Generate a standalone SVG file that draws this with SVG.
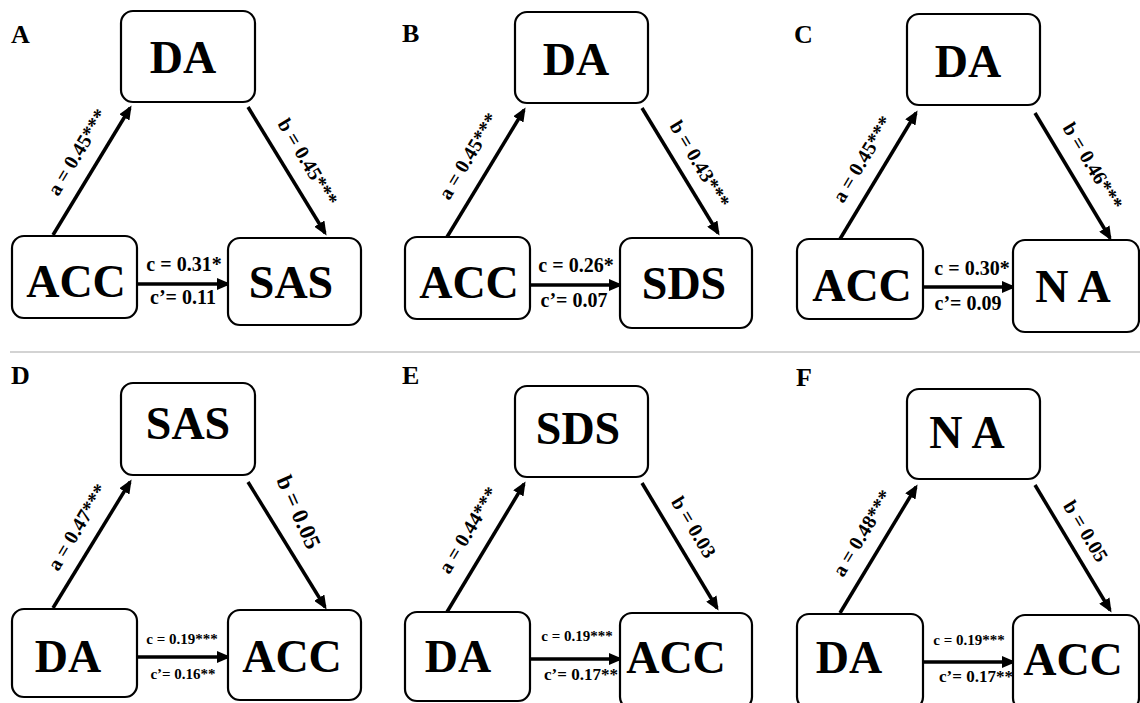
<svg xmlns="http://www.w3.org/2000/svg" width="1140" height="703" viewBox="0 0 1140 703">
<style>
.bg{fill:#fff}
.box{fill:#fff;stroke:#000;stroke-width:2.2}
.nt{font-family:"Liberation Serif","Times New Roman",serif;font-weight:bold;font-size:46px;fill:#000;text-anchor:middle}
.pl{font-family:"Liberation Serif","Times New Roman",serif;font-weight:bold;font-size:26px;fill:#000}
.el{font-family:"Liberation Serif","Times New Roman",serif;font-weight:bold;font-size:20px;fill:#000;text-anchor:middle}
.cl{font-family:"Liberation Serif","Times New Roman",serif;font-weight:bold;font-size:20px;fill:#000;text-anchor:middle}
.cs{font-size:15px}
.cm{font-size:17px}
.ar{stroke:#000;stroke-width:3.5;fill:none;marker-end:url(#ah)}
.sep{stroke:#c4c4c4;stroke-width:1.5}
</style>
<defs>
<marker id="ah" markerUnits="userSpaceOnUse" markerWidth="14" markerHeight="12" refX="11" refY="6" orient="auto">
<path d="M0,0 L14,6 L0,12 z" fill="#000"/>
</marker>
</defs>
<rect class="bg" x="0" y="0" width="1140" height="703"/>
<line class="sep" x1="10" y1="352" x2="1140" y2="352"/>

<g id="panel-labels">
<text class="pl" x="11" y="43">A</text>
<text class="pl" x="402" y="42">B</text>
<text class="pl" x="794" y="43">C</text>
<text class="pl" x="11" y="384">D</text>
<text class="pl" x="402" y="384">E</text>
<text class="pl" x="796" y="386">F</text>
</g>

<g id="connectors">
<!-- A -->
<line class="ar" x1="53" y1="235" x2="130" y2="108"/>
<line class="ar" x1="248" y1="107" x2="325" y2="233"/>
<line class="ar" x1="137" y1="284" x2="228" y2="284"/>
<!-- B -->
<line class="ar" x1="447" y1="237" x2="524" y2="110"/>
<line class="ar" x1="642" y1="108" x2="718" y2="233"/>
<line class="ar" x1="530" y1="285" x2="620" y2="285"/>
<!-- C -->
<line class="ar" x1="840" y1="239" x2="916" y2="113"/>
<line class="ar" x1="1035" y1="113" x2="1110" y2="238"/>
<line class="ar" x1="923" y1="287" x2="1013" y2="287"/>
<!-- D -->
<line class="ar" x1="53" y1="608" x2="130" y2="482"/>
<line class="ar" x1="248" y1="482" x2="325" y2="607"/>
<line class="ar" x1="137" y1="657" x2="228" y2="657"/>
<!-- E -->
<line class="ar" x1="447" y1="612" x2="524" y2="484"/>
<line class="ar" x1="642" y1="483" x2="717" y2="608"/>
<line class="ar" x1="530" y1="659" x2="620" y2="659"/>
<!-- F -->
<line class="ar" x1="840" y1="613" x2="916" y2="487"/>
<line class="ar" x1="1035" y1="485" x2="1110" y2="610"/>
<line class="ar" x1="923" y1="662" x2="1013" y2="662"/>

<!-- edge labels -->
<text class="el" transform="translate(77,152) rotate(-59)" x="0" y="7">a = 0.45***</text>
<text class="el" transform="translate(308,162) rotate(59)" x="0" y="7">b = 0.45***</text>
<text class="cl" x="184" y="271">c = 0.31*</text>
<text class="cl" x="183" y="304">c’= 0.11</text>

<text class="el" transform="translate(468,156) rotate(-59)" x="0" y="7">a = 0.45***</text>
<text class="el" transform="translate(700,164) rotate(59)" x="0" y="7">b = 0.43***</text>
<text class="cl" x="576" y="272">c = 0.26*</text>
<text class="cl" x="574" y="307">c’= 0.07</text>

<text class="el" transform="translate(862,159) rotate(-59)" x="0" y="7">a = 0.45***</text>
<text class="el" transform="translate(1093,166) rotate(59)" x="0" y="7">b = 0.46***</text>
<text class="cl" x="972" y="275">c = 0.30*</text>
<text class="cl" x="968" y="310">c’= 0.09</text>

<text class="el" transform="translate(77,527) rotate(-59)" x="0" y="7">a = 0.47***</text>
<text class="el" transform="translate(299,512) rotate(66)" x="0" y="8" style="font-size:23px">b = 0.05</text>
<text class="cl cs" x="182" y="644">c = 0.19***</text>
<text class="cl cs" x="183" y="679">c’= 0.16**</text>

<text class="el" transform="translate(468,530) rotate(-59)" x="0" y="7">a = 0.44***</text>
<text class="el" transform="translate(694,527) rotate(59)" x="0" y="7">b = 0.03</text>
<text class="cl cs" x="577" y="641">c = 0.19***</text>
<text class="cl cm" x="581" y="680">c’= 0.17**</text>

<text class="el" transform="translate(862,533) rotate(-59)" x="0" y="7">a = 0.48***</text>
<text class="el" transform="translate(1086,531) rotate(59)" x="0" y="7">b = 0.05</text>
<text class="cl cs" x="969" y="645">c = 0.19***</text>
<text class="cl cm" x="976" y="682">c’= 0.17**</text>
</g>

<!-- Panel A nodes -->
<g id="A-DA"><rect class="box" x="121" y="11" width="134" height="91" rx="12"/><text class="nt" x="183" y="73">DA</text></g>
<g id="A-ACC"><rect class="box" x="12" y="236" width="125" height="82" rx="12"/><text class="nt" x="76" y="297">ACC</text></g>
<g id="A-SAS"><rect class="box" x="228" y="238" width="133" height="87" rx="12"/><text class="nt" x="291" y="298">SAS</text></g>

<!-- Panel B nodes -->
<g id="B-DA"><rect class="box" x="515" y="12" width="133" height="91" rx="12"/><text class="nt" x="576" y="75">DA</text></g>
<g id="B-ACC"><rect class="box" x="405" y="237" width="125" height="82" rx="12"/><text class="nt" x="469" y="298">ACC</text></g>
<g id="B-SDS"><rect class="box" x="620" y="238" width="132" height="90" rx="12"/><text class="nt" x="684" y="299">SDS</text></g>

<!-- Panel C nodes -->
<g id="C-DA"><rect class="box" x="907" y="14" width="133" height="91" rx="12"/><text class="nt" x="968" y="77">DA</text></g>
<g id="C-ACC"><rect class="box" x="797" y="239" width="126" height="80" rx="12"/><text class="nt" x="862" y="301">ACC</text></g>
<g id="C-NA"><rect class="box" x="1013" y="240" width="126" height="92" rx="12"/><text class="nt" x="1073" y="302">N A</text></g>

<!-- Panel D nodes -->
<g id="D-SAS"><rect class="box" x="121" y="383" width="134" height="92" rx="12"/><text class="nt" x="188" y="439">SAS</text></g>
<g id="D-DA"><rect class="box" x="12" y="609" width="125" height="88" rx="12"/><text class="nt" x="68" y="672">DA</text></g>
<g id="D-ACC"><rect class="box" x="228" y="610" width="133" height="90" rx="12"/><text class="nt" x="292" y="672">ACC</text></g>

<!-- Panel E nodes -->
<g id="E-SDS"><rect class="box" x="515" y="386" width="133" height="91" rx="12"/><text class="nt" x="578" y="444">SDS</text></g>
<g id="E-DA"><rect class="box" x="405" y="612" width="125" height="89" rx="12"/><text class="nt" x="458" y="672">DA</text></g>
<g id="E-ACC"><rect class="box" x="620" y="613" width="132" height="96" rx="12"/><text class="nt" x="676" y="673">ACC</text></g>

<!-- Panel F nodes -->
<g id="F-NA"><rect class="box" x="907" y="389" width="133" height="90" rx="12"/><text class="nt" x="967" y="448">N A</text></g>
<g id="F-DA"><rect class="box" x="797" y="614" width="126" height="95" rx="12"/><text class="nt" x="849" y="673">DA</text></g>
<g id="F-ACC"><rect class="box" x="1013" y="615" width="126" height="95" rx="12"/><text class="nt" x="1073" y="675">ACC</text></g>
</svg>
